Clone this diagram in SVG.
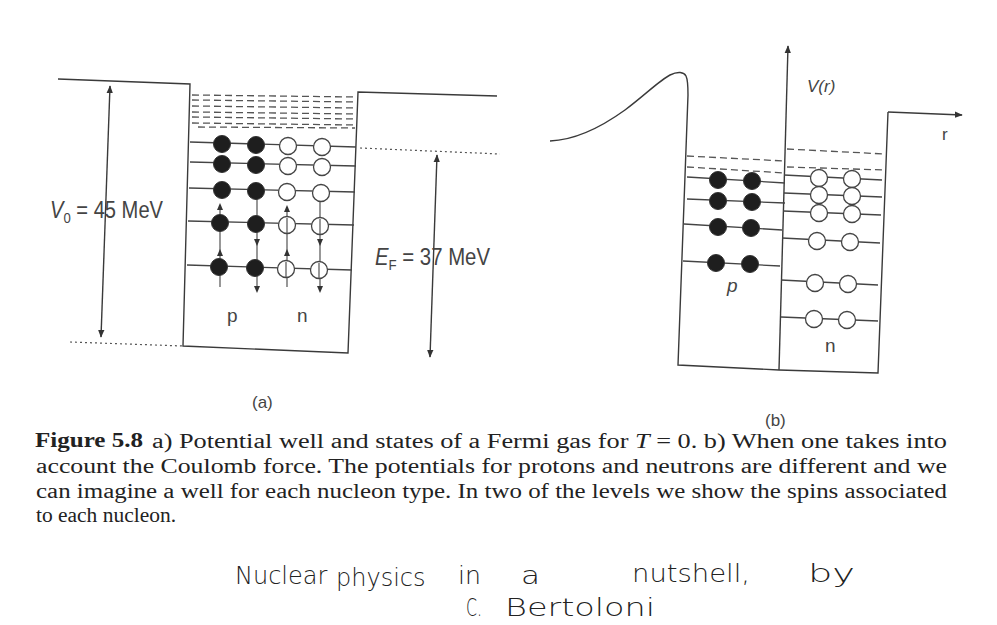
<svg xmlns="http://www.w3.org/2000/svg" width="997" height="625" viewBox="0 0 997 625">
<defs>
<style>
.ln{stroke:#3a3a3a;stroke-width:1.4;fill:none}
.lv{stroke:#444;stroke-width:1.3;fill:none}
.ds{stroke:#555;stroke-width:1.3;fill:none;stroke-dasharray:7 4}
.dt{stroke:#555;stroke-width:1.2;fill:none;stroke-dasharray:2 3}
.sp{stroke:#444;stroke-width:1.1;fill:none}
.fc{fill:#1e1e1e;stroke:#333;stroke-width:1}
.oc{fill:#fff;stroke:#444;stroke-width:1.3}
.lab{font-family:"Liberation Sans","DejaVu Sans",sans-serif;fill:#444}
.cap{font-family:"Liberation Serif","DejaVu Serif",serif;fill:#222;font-size:20px}
.hw{font-family:"DejaVu Sans","Liberation Sans",sans-serif;font-weight:200;fill:#222;font-size:24px}
</style>
<marker id="ah" viewBox="0 0 10 10" refX="9" refY="5" markerWidth="8" markerHeight="8" markerUnits="userSpaceOnUse" orient="auto-start-reverse"><path d="M0,1 L10,5 L0,9 Z" fill="#333"/></marker>
<path id="up" d="M0,-4 L3,3 L-3,3 Z" fill="#333"/>
<path id="dn" d="M0,4 L3,-3 L-3,-3 Z" fill="#333"/>
</defs>
<rect width="997" height="625" fill="#fff"/>

<!-- Panel (a) -->
<g id="well-a">
<path class="ln" d="M58,79 L190,84 L183,346 L348,353 L358,92 L497,96"/>
</g>
<g id="dashed-a">
<path class="ds" d="M192,95 L357,97 M192,100 L357,102 M192,106 L357,108 M192,112 L357,114 M192,117 L357,119 M192,123 L357,125 M198,127 L355,128"/>
</g>
<g id="levels-a">
<path class="lv" d="M190,142 L356,147 M190,162 L356,166 M189,188 L355,192 M188,221 L354,225 M187,265 L352,270"/>
</g>
<g id="spins-a">
<path class="sp" d="M220,287 L220,205 M257,198 L257,290 M287,287 L287,207 M320,198 L320,290"/>
<use href="#up" x="220" y="207"/><use href="#up" x="220" y="253"/>
<use href="#dn" x="257" y="242"/><use href="#dn" x="257" y="289"/>
<use href="#up" x="287" y="209"/><use href="#up" x="287" y="253"/>
<use href="#dn" x="320" y="242"/><use href="#dn" x="320" y="289"/>
</g>
<g id="protons-a">
<circle class="fc" cx="222" cy="144" r="8.5"/><circle class="fc" cx="256" cy="145" r="8.5"/>
<circle class="fc" cx="222" cy="164" r="8.5"/><circle class="fc" cx="256" cy="165" r="8.5"/>
<circle class="fc" cx="222" cy="190" r="8.5"/><circle class="fc" cx="256" cy="191" r="8.5"/>
<circle class="fc" cx="220" cy="223" r="8.5"/><circle class="fc" cx="256" cy="224" r="8.5"/>
<circle class="fc" cx="219" cy="267" r="8.5"/><circle class="fc" cx="255" cy="268" r="8.5"/>
</g>
<g id="neutrons-a">
<circle class="oc" cx="288" cy="146" r="8.5"/><circle class="oc" cx="322" cy="147" r="8.5"/>
<circle class="oc" cx="288" cy="166" r="8.5"/><circle class="oc" cx="322" cy="167" r="8.5"/>
<circle class="oc" cx="287" cy="192" r="8.5"/><circle class="oc" cx="321" cy="193" r="8.5"/>
<circle class="oc" cx="287" cy="225" r="8.5"/><circle class="oc" cx="320" cy="226" r="8.5"/>
<circle class="oc" cx="286" cy="269" r="8.5"/><circle class="oc" cx="319" cy="270" r="8.5"/>
</g>
<g id="spin-lines-a">
<path class="sp" d="M287,218 L287,233 M320,219 L320,234 M286,262 L286,277 M319,263 L319,278"/>
</g>
<g id="v0">
<path class="dt" d="M70,342 L183,346"/>
<line class="ln" x1="110" y1="86" x2="101" y2="337" marker-start="url(#ah)" marker-end="url(#ah)"/>
<text class="lab" x="50" y="218" font-size="23" textLength="113" lengthAdjust="spacingAndGlyphs"><tspan font-style="italic">V</tspan><tspan font-size="15" dy="5">0</tspan><tspan dy="-5"> = 45 MeV</tspan></text>
</g>
<g id="ef">
<path class="dt" d="M360,148 L500,154"/>
<line class="ln" x1="437" y1="155" x2="430" y2="357" marker-start="url(#ah)" marker-end="url(#ah)"/>
<text class="lab" x="375" y="265" font-size="23" textLength="115" lengthAdjust="spacingAndGlyphs"><tspan font-style="italic">E</tspan><tspan font-size="15" dy="5">F</tspan><tspan dy="-5"> = 37 MeV</tspan></text>
</g>
<g id="labels-a">
<text class="lab" x="227" y="322" font-size="19">p</text>
<text class="lab" x="297" y="322" font-size="19">n</text>
<text class="lab" x="252" y="408" font-size="17">(a)</text>
</g>

<!-- Panel (b) -->
<g id="potential-b">
<path class="ln" d="M550,141 C575,140 600,128 625,110 C645,95 660,80 670,75 C678,71 684,72 686,76 C688,80 688,88 688,95 L678,365 L779,370 L878,373 L888,112"/>
<line class="ln" x1="888" y1="112" x2="962" y2="115" marker-end="url(#ah)"/>
<line class="ln" x1="779" y1="370" x2="788" y2="46" marker-end="url(#ah)"/>
<text class="lab" x="807" y="92" font-size="17" font-style="italic">V(r)</text>
<text class="lab" x="942" y="140" font-size="17">r</text>
</g>
<g id="dashed-b">
<path class="ds" d="M687,156 L785,161 M687,167 L785,173 M787,149 L885,154 M787,167 L885,170"/>
</g>
<g id="levels-b">
<path class="lv" d="M687,177 L785,183 M687,199 L785,203 M684,224 L782,230 M683,261 L780,266"/>
<path class="lv" d="M784,175 L882,180 M784,193 L882,197 M783,211 L881,215 M782,238 L880,243 M781,280 L878,285 M781,317 L878,321"/>
</g>
<g id="protons-b">
<circle class="fc" cx="718" cy="180" r="8.5"/><circle class="fc" cx="752" cy="181" r="8.5"/>
<circle class="fc" cx="718" cy="201" r="8.5"/><circle class="fc" cx="752" cy="202" r="8.5"/>
<circle class="fc" cx="718" cy="227" r="8.5"/><circle class="fc" cx="751" cy="228" r="8.5"/>
<circle class="fc" cx="716" cy="263" r="8.5"/><circle class="fc" cx="750" cy="264" r="8.5"/>
</g>
<g id="neutrons-b">
<circle class="oc" cx="819" cy="178" r="8.5"/><circle class="oc" cx="852" cy="179" r="8.5"/>
<circle class="oc" cx="819" cy="195" r="8.5"/><circle class="oc" cx="852" cy="196" r="8.5"/>
<circle class="oc" cx="819" cy="213" r="8.5"/><circle class="oc" cx="852" cy="214" r="8.5"/>
<circle class="oc" cx="817" cy="241" r="8.5"/><circle class="oc" cx="850" cy="242" r="8.5"/>
<circle class="oc" cx="815" cy="283" r="8.5"/><circle class="oc" cx="848" cy="284" r="8.5"/>
<circle class="oc" cx="814" cy="319" r="8.5"/><circle class="oc" cx="847" cy="320" r="8.5"/>
</g>
<g id="labels-b">
<text class="lab" x="727" y="292" font-size="19" font-style="italic">p</text>
<text class="lab" x="825" y="352" font-size="19">n</text>
<text class="lab" x="765" y="426" font-size="17">(b)</text>
</g>

<!-- Caption -->
<g id="caption">
<text class="cap" x="35" y="447" font-weight="bold" textLength="108" lengthAdjust="spacingAndGlyphs">Figure 5.8</text>
<text class="cap" x="152" y="448" textLength="795" lengthAdjust="spacingAndGlyphs">a) Potential well and states of a Fermi gas for <tspan font-style="italic">T</tspan> = 0. b) When one takes into</text>
<text class="cap" x="36" y="473" textLength="911" lengthAdjust="spacingAndGlyphs">account the Coulomb force. The potentials for protons and neutrons are different and we</text>
<text class="cap" x="36" y="498" textLength="911" lengthAdjust="spacingAndGlyphs">can imagine a well for each nucleon type. In two of the levels we show the spins associated</text>
<text class="cap" x="36" y="522" textLength="140" lengthAdjust="spacingAndGlyphs">to each nucleon.</text>
</g>
<g id="handwriting">
<text class="hw" x="235" y="584">Nuclear</text>
<text class="hw" x="336" y="586">physics</text>
<text class="hw" x="458" y="584" textLength="23" lengthAdjust="spacingAndGlyphs">in</text>
<text class="hw" x="521" y="584" textLength="19" lengthAdjust="spacingAndGlyphs">a</text>
<text class="hw" x="632" y="582" textLength="118" lengthAdjust="spacingAndGlyphs">nutshell,</text>
<text class="hw" x="808" y="582" textLength="47" lengthAdjust="spacingAndGlyphs">by</text>
<text class="hw" x="466" y="616" textLength="16" lengthAdjust="spacingAndGlyphs">C.</text>
<text class="hw" x="505" y="616" textLength="150" lengthAdjust="spacingAndGlyphs">Bertoloni</text>
</g>
</svg>
